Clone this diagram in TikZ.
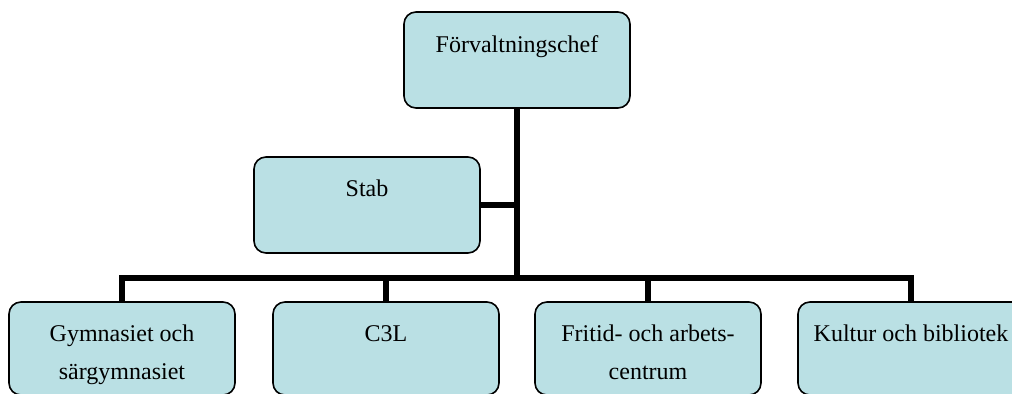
\documentclass[tikz,border=0pt]{standalone}
\usepackage{fontspec}
\setmainfont{Liberation Serif}
\definecolor{boxfill}{RGB}{186,224,228}
\tikzset{
  box/.style={draw=black, fill=boxfill, line width=0.8pt, rounded corners=6pt,
    minimum width=113pt, minimum height=48pt, inner sep=0pt},
  lowbox/.style={box, minimum height=46.5pt},
  txt/.style={anchor=north, yshift=-11.8pt, inner sep=0pt, align=center,
    font=\fontsize{12}{19}\selectfont},
  conn/.style={draw=black, line width=2.8pt}
}
\begin{document}
\begin{tikzpicture}[x=0.5pt, y=-0.5pt]
\useasboundingbox (0,0) rectangle (1012,394);
\clip (0,0) rectangle (1012,394);
\fill[white] (0,0) rectangle (1012,394);
% boxes (positions in pixels)
\node[box, label={[txt]north:Förvaltningschef}] (chef) at (517,60) {};
\node[box, label={[txt]north:Stab}] (stab) at (367,205) {};
\node[lowbox, label={[txt]north:Gymnasiet och\\särgymnasiet}] (gym) at (122,348.5) {};
\node[lowbox, label={[txt]north:C3L}] (c3l) at (386,348.5) {};
\node[lowbox, label={[txt]north:Fritid- och arbets-\\centrum}] (fritid) at (648,348.5) {};
\node[lowbox, label={[txt]north:Kultur och bibliotek}] (kultur) at (911,348.5) {};
% connectors
\coordinate (bus) at (517,278);
\draw[conn] (chef.south) -- (bus);
\draw[conn] (stab.east) -- (stab.east -| bus);
\draw[conn] (gym.north) -- (gym.north |- bus) -- (kultur.north |- bus) -- (kultur.north);
\draw[conn] (c3l.north) -- (c3l.north |- bus);
\draw[conn] (fritid.north) -- (fritid.north |- bus);
\end{tikzpicture}
\end{document}
